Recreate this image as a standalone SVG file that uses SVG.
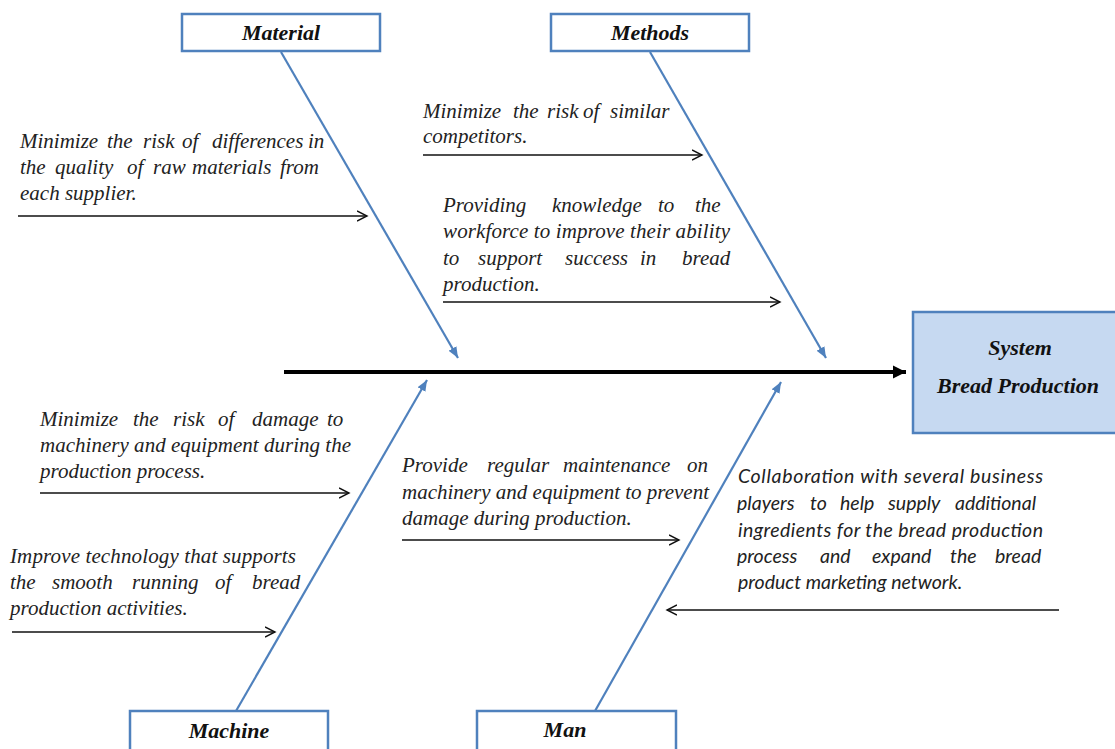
<svg xmlns="http://www.w3.org/2000/svg" width="1115" height="749" viewBox="0 0 1115 749">
<defs>
<style>
.box{fill:#fff;stroke:#4f81bd;stroke-width:2.5}
.sys{fill:#c6d9f1;stroke:#4f81bd;stroke-width:2.5}
.lbl{font-family:"Liberation Serif",serif;font-style:italic;font-weight:bold;font-size:22px;fill:#111;text-anchor:middle}
.t{font-family:"Liberation Serif",serif;font-style:italic;font-size:21px;fill:#222}
.c{font-family:Lato,"Liberation Sans",sans-serif;font-style:italic;font-size:19.5px;fill:#222}
.bone{stroke:#4f81bd;stroke-width:2.2;fill:none;marker-end:url(#ba)}
.sub{stroke:#111;stroke-width:1.4;fill:none;marker-end:url(#oa)}
</style>
<marker id="ba" markerUnits="userSpaceOnUse" markerWidth="12" markerHeight="10" refX="11" refY="5" orient="auto">
<path d="M0,0.5 L11,5 L0,9.5 z" fill="#4f81bd"/>
</marker>
<marker id="oa" markerUnits="userSpaceOnUse" markerWidth="12" markerHeight="12" refX="10" refY="6" orient="auto">
<path d="M0,1 L10,6 L0,11" fill="none" stroke="#111" stroke-width="1.4"/>
</marker>
<marker id="sa" markerUnits="userSpaceOnUse" markerWidth="14" markerHeight="14" refX="13" refY="7" orient="auto">
<path d="M0,0.5 L13,7 L0,13.5 z" fill="#000"/>
</marker>
</defs>
<rect width="1115" height="749" fill="#fff"/>

<g id="connectors">
<line x1="284" y1="372" x2="906" y2="372" stroke="#000" stroke-width="4" marker-end="url(#sa)"/>
<line class="bone" x1="281" y1="52" x2="458" y2="358"/>
<line class="bone" x1="650" y1="52" x2="826" y2="358"/>
<line class="bone" x1="236" y1="711" x2="427" y2="380"/>
<line class="bone" x1="595" y1="711" x2="781" y2="382"/>
<line class="sub" x1="18" y1="216" x2="367" y2="216"/>
<line class="sub" x1="423" y1="155" x2="702" y2="155"/>
<line class="sub" x1="443" y1="302" x2="780" y2="302"/>
<line class="sub" x1="40" y1="493" x2="349" y2="493"/>
<line class="sub" x1="12" y1="632" x2="275" y2="632"/>
<line class="sub" x1="402" y1="540" x2="679" y2="540"/>
<line class="sub" x1="1059" y1="610" x2="667" y2="610"/>
</g>

<g id="material">
<rect class="box" x="182" y="14" width="198" height="37"/>
<text class="lbl" x="281" y="40">Material</text>
</g>
<g id="methods">
<rect class="box" x="551" y="14" width="198" height="37"/>
<text class="lbl" x="650" y="40">Methods</text>
</g>
<g id="machine">
<rect class="box" x="130" y="711" width="198" height="45"/>
<text class="lbl" x="229" y="738">Machine</text>
</g>
<g id="man">
<rect class="box" x="477" y="711" width="199" height="45"/>
<text class="lbl" x="565" y="737">Man</text>
</g>
<g id="system">
<rect class="sys" x="913" y="312" width="212" height="121"/>
<text class="lbl" x="1020" y="355">System</text>
<text class="lbl" x="1018" y="393">Bread Production</text>
</g>

<g id="material-causes">
<text class="t" y="148"><tspan x="20">Minimize</tspan><tspan x="107">the</tspan><tspan x="143">risk</tspan><tspan x="182">of</tspan><tspan x="212">differences</tspan><tspan x="308">in</tspan></text>
<text class="t" y="174"><tspan x="20">the</tspan><tspan x="55">quality</tspan><tspan x="127">of</tspan><tspan x="153">raw</tspan><tspan x="192">materials</tspan><tspan x="280">from</tspan></text>
<text class="t" x="20" y="200">each supplier.</text>
</g>

<g id="methods-causes">
<text class="t" y="118"><tspan x="423">Minimize</tspan><tspan x="513">the</tspan><tspan x="547">risk</tspan><tspan x="583">of</tspan><tspan x="610">similar</tspan></text>
<text class="t" x="423" y="143">competitors.</text>
<text class="t" y="212"><tspan x="443">Providing</tspan><tspan x="552">knowledge</tspan><tspan x="658">to</tspan><tspan x="695">the</tspan></text>
<text class="t" x="443" y="238" textLength="287" lengthAdjust="spacing">workforce to improve their ability</text>
<text class="t" y="265"><tspan x="443">to</tspan><tspan x="478">support</tspan><tspan x="565">success</tspan><tspan x="640">in</tspan><tspan x="682">bread</tspan></text>
<text class="t" x="443" y="291">production.</text>
</g>

<g id="machine-causes">
<text class="t" y="426"><tspan x="40">Minimize</tspan><tspan x="133">the</tspan><tspan x="173">risk</tspan><tspan x="218">of</tspan><tspan x="252">damage</tspan><tspan x="327">to</tspan></text>
<text class="t" x="40" y="452" textLength="311" lengthAdjust="spacing">machinery and equipment during the</text>
<text class="t" x="40" y="478">production process.</text>
<text class="t" x="10" y="563" textLength="286" lengthAdjust="spacing">Improve technology that supports</text>
<text class="t" y="589"><tspan x="10">the</tspan><tspan x="52">smooth</tspan><tspan x="132">running</tspan><tspan x="215">of</tspan><tspan x="252">bread</tspan></text>
<text class="t" x="10" y="615">production activities.</text>
<text class="t" y="472"><tspan x="402">Provide</tspan><tspan x="487">regular</tspan><tspan x="563">maintenance</tspan><tspan x="687">on</tspan></text>
<text class="t" x="402" y="499" textLength="307" lengthAdjust="spacing">machinery and equipment to prevent</text>
<text class="t" x="402" y="525">damage during production.</text>
</g>

<g id="man-causes">
<text class="c" x="738" y="483" textLength="305" lengthAdjust="spacing">Collaboration with several business</text>
<text class="c" y="510"><tspan x="737">players</tspan><tspan x="810">to</tspan><tspan x="840">help</tspan><tspan x="888">supply</tspan><tspan x="955">additional</tspan></text>
<text class="c" x="738" y="537" textLength="305" lengthAdjust="spacing">ingredients for the bread production</text>
<text class="c" y="563"><tspan x="737">process</tspan><tspan x="820">and</tspan><tspan x="872">expand</tspan><tspan x="950">the</tspan><tspan x="995">bread</tspan></text>
<text class="c" x="738" y="589">product marketing network.</text>
</g>
</svg>
